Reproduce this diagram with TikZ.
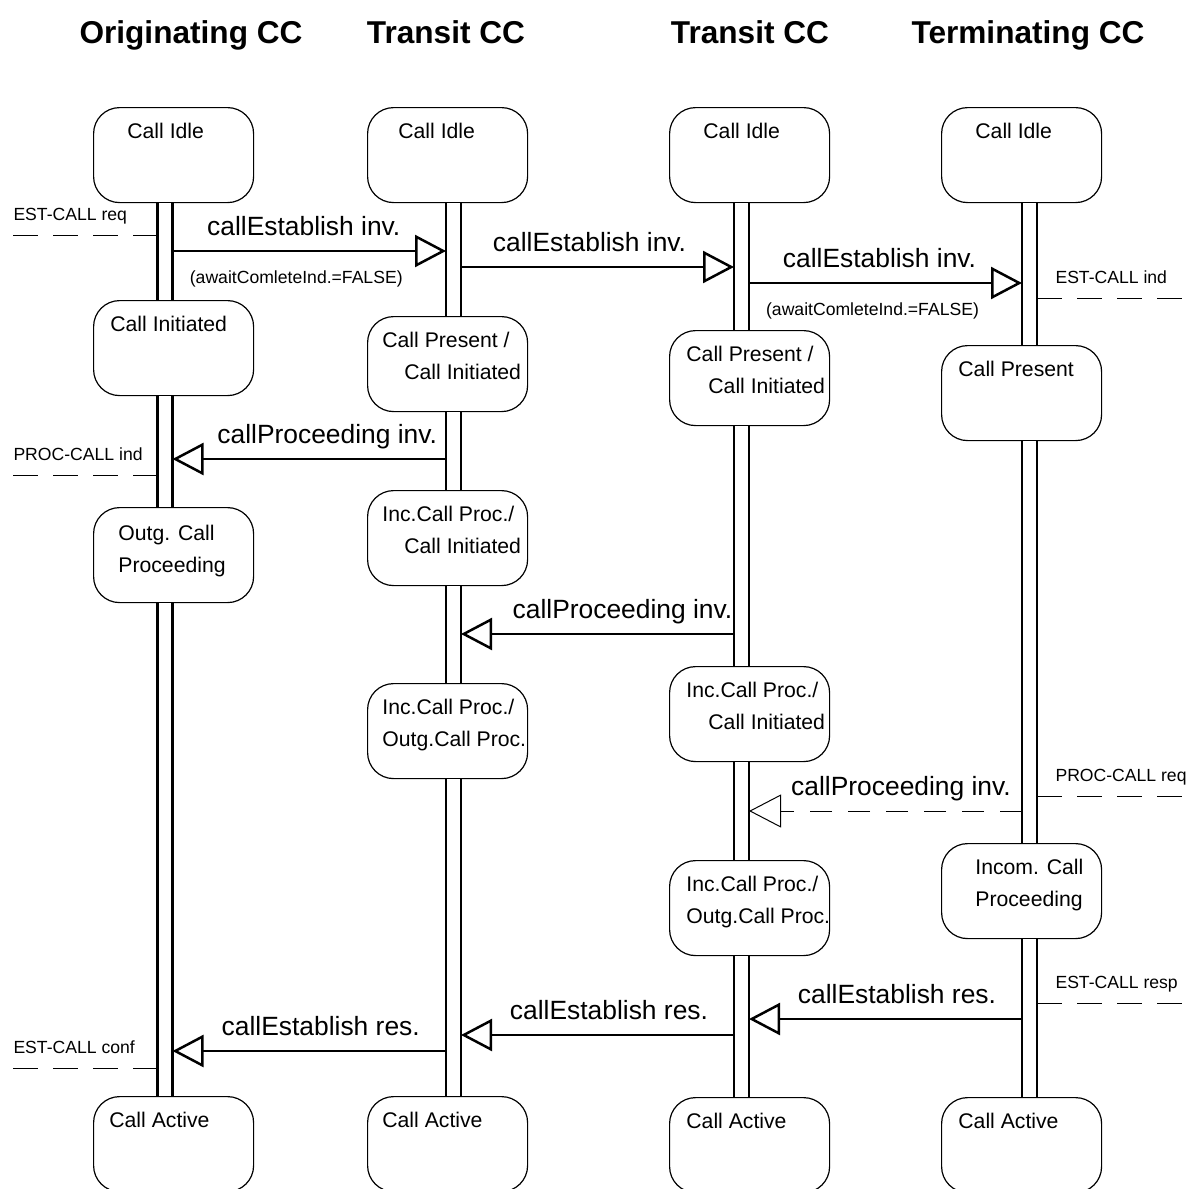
\documentclass[tikz,border=0pt]{standalone}
\usepackage{fontspec}
\setmainfont{Liberation Sans}
\usetikzlibrary{arrows.meta}

\tikzset{
	stbox/.style={draw, line width=0.6pt, rounded corners=13pt, anchor=north west,
		minimum width=80pt, minimum height=47.5pt, inner sep=0pt},
	sttext/.style={font=\fontsize{10.6}{16}\selectfont, align=left, anchor=north west, inner sep=0pt},
	title/.style={font=\bfseries\fontsize{15.8}{19}\selectfont, anchor=base, inner sep=0pt},
	life/.style={line width=1.25pt, double distance=6.25pt},
	msg/.style={line width=1.25pt, -{Triangle[open, length=15.5pt, width=16pt]}},
	msgdash/.style={line width=0.5pt, dash pattern=on 11.25pt off 7.75pt,
		-{Triangle[open, length=16pt, width=16.5pt]}},
	msglbl/.style={font=\fontsize{13.2}{15}\selectfont, anchor=base, inner sep=0pt, yshift=8pt},
	smlbl/.style={font=\fontsize{8.8}{10}\selectfont, anchor=base, inner sep=0pt, yshift=-16pt},
	sig/.style={line width=0.5pt, dash pattern=on 12.25pt off 7.75pt},
	siglbl/.style={font=\fontsize{8.8}{10}\selectfont, anchor=base west, inner sep=0pt, yshift=7.5pt},
}

\begin{document}
\begin{tikzpicture}[x=0.5pt, y=-0.5pt]
	\useasboundingbox (0,0) rectangle (1187,1189);
	\clip (0,0) rectangle (1187,1189);

	% Headers
	\node[title] (hOrig) at (191,43) {Originating CC};
	\node[title] (hTr1) at (446,43) {Transit CC};
	\node[title] (hTr2) at (750,43) {Transit CC};
	\node[title] (hTerm) at (1028,43) {Terminating CC};

	% Lifelines
	\coordinate (oC) at (165,0);
	\coordinate (oL) at (157.5,0);
	\coordinate (oR) at (172.5,0);
	\coordinate (t1C) at (453.5,0);
	\coordinate (t1L) at (446,0);
	\coordinate (t1R) at (461,0);
	\coordinate (t2C) at (741.5,0);
	\coordinate (t2L) at (734,0);
	\coordinate (t2R) at (749,0);
	\coordinate (tmC) at (1029.5,0);
	\coordinate (tmL) at (1022,0);
	\coordinate (tmR) at (1037,0);

	% States: originating
	\node[stbox] (oIdle) at (93,107) {};
	\node[sttext] (oIdleT) at ([shift={(34,16)}]oIdle.north west) {Call Idle};
	\node[stbox] (oInit) at (93,300) {};
	\node[sttext] (oInitT) at ([shift={(17,16)}]oInit.north west) {Call Initiated};
	\node[stbox] (oProc) at (93,507) {};
	\node[sttext] (oProcT) at ([shift={(25,18)}]oProc.north west) {Outg. Call\\Proceeding};
	\node[stbox] (oAct) at (93,1096) {};
	\node[sttext] (oActT) at ([shift={(16,16)}]oAct.north west) {Call Active};

	% States: transit 1
	\node[stbox] (t1Idle) at (367,107) {};
	\node[sttext] (t1IdleT) at ([shift={(31,16)}]t1Idle.north west) {Call Idle};
	\node[stbox] (t1Pres) at (367,316) {};
	\node[sttext] (t1PresT) at ([shift={(15,16)}]t1Pres.north west) {Call Present /\\\hspace*{11pt}Call Initiated};
	\node[stbox] (t1IncInit) at (367,490) {};
	\node[sttext] (t1IncInitT) at ([shift={(15,16)}]t1IncInit.north west) {Inc.Call Proc./\\\hspace*{11pt}Call Initiated};
	\node[stbox] (t1IncOutg) at (367,683) {};
	\node[sttext] (t1IncOutgT) at ([shift={(15,16)}]t1IncOutg.north west) {Inc.Call Proc./\\Outg.Call Proc.};
	\node[stbox] (t1Act) at (367,1096) {};
	\node[sttext] (t1ActT) at ([shift={(15,16)}]t1Act.north west) {Call Active};

	% States: transit 2
	\node[stbox] (t2Idle) at (669,107) {};
	\node[sttext] (t2IdleT) at ([shift={(34,16)}]t2Idle.north west) {Call Idle};
	\node[stbox] (t2Pres) at (669,330) {};
	\node[sttext] (t2PresT) at ([shift={(17,16)}]t2Pres.north west) {Call Present /\\\hspace*{11pt}Call Initiated};
	\node[stbox] (t2IncInit) at (669,666) {};
	\node[sttext] (t2IncInitT) at ([shift={(17,16)}]t2IncInit.north west) {Inc.Call Proc./\\\hspace*{11pt}Call Initiated};
	\node[stbox] (t2IncOutg) at (669,860) {};
	\node[sttext] (t2IncOutgT) at ([shift={(17,16)}]t2IncOutg.north west) {Inc.Call Proc./\\Outg.Call Proc.};
	\node[stbox] (t2Act) at (669,1097) {};
	\node[sttext] (t2ActT) at ([shift={(17,16)}]t2Act.north west) {Call Active};

	% States: terminating
	\node[stbox] (tmIdle) at (941,107) {};
	\node[sttext] (tmIdleT) at ([shift={(34,16)}]tmIdle.north west) {Call Idle};
	\node[stbox] (tmPres) at (941,345) {};
	\node[sttext] (tmPresT) at ([shift={(17,16)}]tmPres.north west) {Call Present};
	\node[stbox] (tmProc) at (941,843) {};
	\node[sttext] (tmProcT) at ([shift={(34,16)}]tmProc.north west) {Incom. Call\\Proceeding};
	\node[stbox] (tmAct) at (941,1097) {};
	\node[sttext] (tmActT) at ([shift={(17,16)}]tmAct.north west) {Call Active};

	% Lifeline segments
	\draw[life] (oC |- oIdle.south) -- (oC |- oInit.north);
	\draw[life] (oC |- oInit.south) -- (oC |- oProc.north);
	\draw[life] (oC |- oProc.south) -- (oC |- oAct.north);
	\draw[life] (t1C |- t1Idle.south) -- (t1C |- t1Pres.north);
	\draw[life] (t1C |- t1Pres.south) -- (t1C |- t1IncInit.north);
	\draw[life] (t1C |- t1IncInit.south) -- (t1C |- t1IncOutg.north);
	\draw[life] (t1C |- t1IncOutg.south) -- (t1C |- t1Act.north);
	\draw[life] (t2C |- t2Idle.south) -- (t2C |- t2Pres.north);
	\draw[life] (t2C |- t2Pres.south) -- (t2C |- t2IncInit.north);
	\draw[life] (t2C |- t2IncInit.south) -- (t2C |- t2IncOutg.north);
	\draw[life] (t2C |- t2IncOutg.south) -- (t2C |- t2Act.north);
	\draw[life] (tmC |- tmIdle.south) -- (tmC |- tmPres.north);
	\draw[life] (tmC |- tmPres.south) -- (tmC |- tmProc.north);
	\draw[life] (tmC |- tmProc.south) -- (tmC |- tmAct.north);

	% Messages
	\draw[msg] (oR |- 0,251) -- (t1L |- 0,251)
		node[msglbl, midway, xshift=-2.75pt] {callEstablish inv.}
		node[smlbl, midway, xshift=-6.5pt] {(awaitComleteInd.=FALSE)};
	\draw[msg] (t1R |- 0,267) -- (t2L |- 0,267)
		node[msglbl, midway, xshift=-4pt] {callEstablish inv.};
	\draw[msg] (t2R |- 0,283) -- (tmL |- 0,283)
		node[msglbl, midway, xshift=-3pt] {callEstablish inv.}
		node[smlbl, midway, xshift=-6.5pt] {(awaitComleteInd.=FALSE)};
	\draw[msg] (t1L |- 0,459) -- (oR |- 0,459)
		node[msglbl, midway, xshift=9pt] {callProceeding inv.};
	\draw[msg] (t2L |- 0,634) -- (t1R |- 0,634)
		node[msglbl, midway, xshift=12.5pt] {callProceeding inv.};
	\draw[msgdash] (tmL |- 0,811) -- (t2R |- 0,811)
		node[msglbl, midway, xshift=7.75pt] {callProceeding inv.};
	\draw[msg] (tmL |- 0,1019) -- (t2R |- 0,1019)
		node[msglbl, midway, xshift=5.75pt] {callEstablish res.};
	\draw[msg] (t2L |- 0,1035) -- (t1R |- 0,1035)
		node[msglbl, midway, xshift=5.75pt] {callEstablish res.};
	\draw[msg] (t1L |- 0,1051) -- (oR |- 0,1051)
		node[msglbl, midway, xshift=5.75pt] {callEstablish res.};

	% Service primitives
	\coordinate (sReq) at (13,235);
	\coordinate (sProcInd) at (13,475);
	\coordinate (sConf) at (13,1068);
	\coordinate (sInd) at (1187,298);
	\coordinate (sProcReq) at (1187,796);
	\coordinate (sResp) at (1187,1003);
	\draw[sig] (sReq) node[siglbl] {EST-CALL req} -- (oL |- sReq);
	\draw[sig] (sProcInd) node[siglbl] {PROC-CALL ind} -- (oL |- sProcInd);
	\draw[sig] (sConf) node[siglbl] {EST-CALL conf} -- (oL |- sConf);
	\draw[sig] (tmR |- sInd) -- (sInd) node[siglbl, pos=0.12] {EST-CALL ind};
	\draw[sig] (tmR |- sProcReq) -- (sProcReq) node[siglbl, pos=0.12] {PROC-CALL req};
	\draw[sig] (tmR |- sResp) -- (sResp) node[siglbl, pos=0.12] {EST-CALL resp};

\end{tikzpicture}
\end{document}
